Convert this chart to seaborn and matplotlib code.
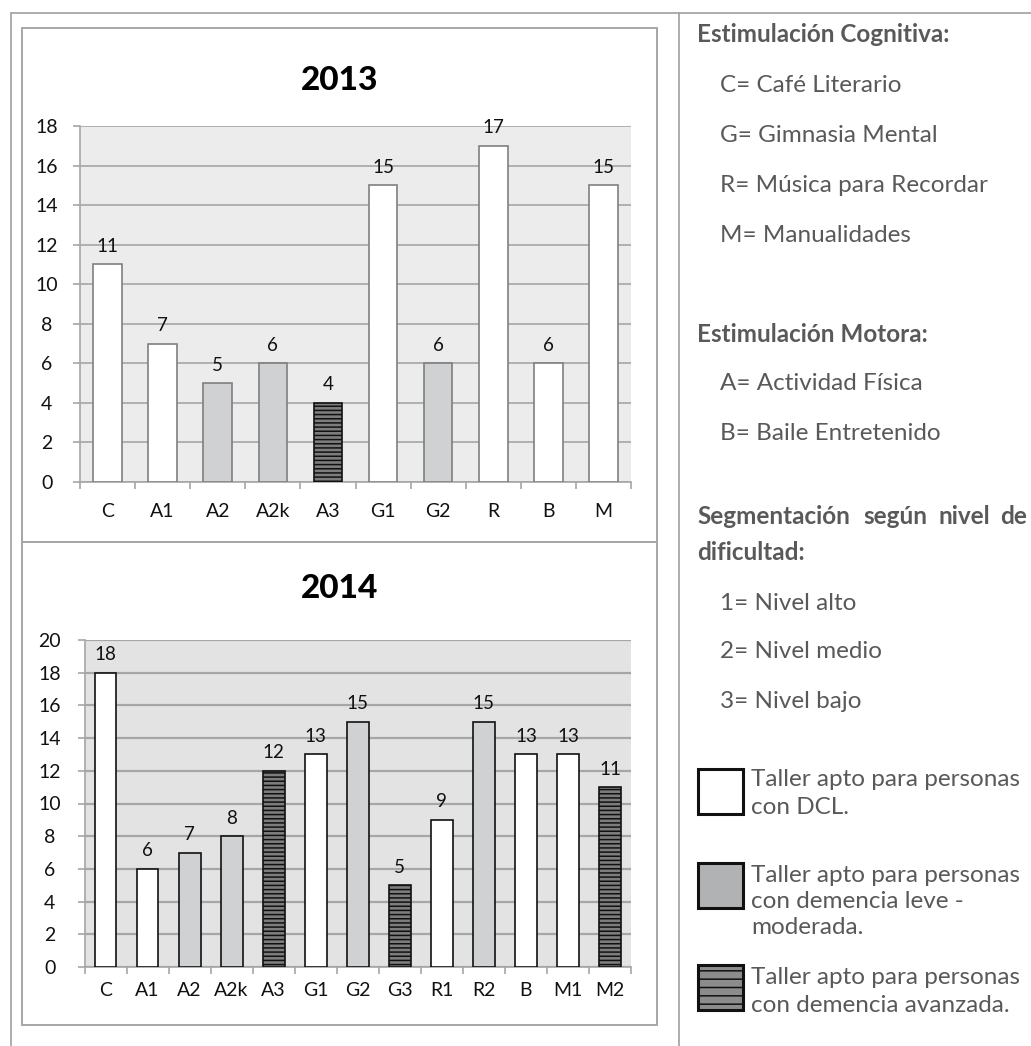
import numpy as np
import pandas as pd
import matplotlib
matplotlib.use("Agg")
import matplotlib.pyplot as plt
import seaborn as sns
from matplotlib.patches import Rectangle
from matplotlib.lines import Line2D

# ---------------- data ----------------
cats_2013 = ["C", "A1", "A2", "A2k", "A3", "G1", "G2", "R", "B", "M"]
vals_2013 = [11, 7, 5, 6, 4, 15, 6, 17, 6, 15]
types_2013 = ["dcl", "dcl", "leve", "leve", "avanz", "dcl", "leve", "dcl", "dcl", "dcl"]

cats_2014 = ["C", "A1", "A2", "A2k", "A3", "G1", "G2", "G3", "R1", "R2", "B", "M1", "M2"]
vals_2014 = [18, 6, 7, 8, 12, 13, 15, 5, 9, 15, 13, 13, 11]
types_2014 = ["dcl", "dcl", "leve", "leve", "avanz", "dcl", "leve", "avanz", "dcl", "leve", "dcl", "dcl", "avanz"]

titles = ["2013", "2014"]

cognitiva_items = ["C= Café Literario", "G= Gimnasia Mental", "R= Música para Recordar", "M= Manualidades"]
motora_items = ["A= Actividad Física", "B= Baile Entretenido"]
nivel_items = ["1= Nivel alto", "2= Nivel medio", "3= Nivel bajo"]
legend_texts = [
    ["Taller apto para personas", "con DCL."],
    ["Taller apto para personas", "con demencia leve -", "moderada."],
    ["Taller apto para personas", "con demencia avanzada."],
]

# ---------------- style ----------------
sns.set_theme(style="white")
plt.rcParams["font.family"] = ["Lato", "DejaVu Sans"]
plt.rcParams["hatch.linewidth"] = 1.1

W, H = 1031, 1046
fig = plt.figure(figsize=(W / 100, H / 100), dpi=100, facecolor="white")

fills = {"dcl": "#ffffff", "leve": "#d0d1d3", "avanz": "#7d7d7d"}
GRID = "#a6a6a6"
TXT = "#595959"


def rect(left, top, right, bottom):
    return [left / W, 1 - bottom / H, (right - left) / W, (bottom - top) / H]


# background overlay for frames / texts (pixel coords)
bg = fig.add_axes([0, 0, 1, 1], zorder=0)
bg.set_xlim(0, W)
bg.set_ylim(H, 0)
bg.axis("off")


def draw_chart(ax, cats, vals, types, ymax, face, edge, elw, glw, ypad, xpad):
    df = pd.DataFrame({"cat": cats, "val": vals})
    pal = {c: fills[t] for c, t in zip(cats, types)}
    sns.barplot(data=df, x="cat", y="val", hue="cat", palette=pal, legend=False,
                width=0.52, saturation=1, edgecolor=edge, linewidth=elw,
                ax=ax, zorder=3)
    for p, t in zip(ax.patches, types):
        if t == "avanz":
            p.set_hatch("----")
            p.set_edgecolor("#111111")
    for i, v in enumerate(vals):
        ax.annotate(str(v), xy=(i, v), xytext=(0, 9), textcoords="offset points",
                    ha="center", va="baseline", fontsize=13.5, color="#111111")
    n = len(cats)
    ax.set_xlim(-0.5, n - 0.5)
    ax.set_ylim(0, ymax)
    yt = list(range(0, ymax + 1, 2))
    ax.set_yticks(yt)
    ax.set_yticklabels([str(t) for t in yt], ha="center")
    ax.set_xticks(range(n))
    ax.set_xticklabels(cats)
    ax.set_xticks(np.arange(-0.5, n), minor=True)
    ax.set_facecolor(face)
    ax.set_axisbelow(True)
    ax.grid(axis="y", color=GRID, linewidth=glw, zorder=0)
    ax.grid(axis="x", visible=False)
    for s in ["top", "right"]:
        ax.spines[s].set_visible(False)
    for s in ["left", "bottom"]:
        ax.spines[s].set_color(GRID)
        ax.spines[s].set_linewidth(1.2)
    ax.tick_params(axis="y", which="major", left=True, length=5, width=1.2,
                   color=GRID, direction="out", pad=ypad, labelsize=14,
                   labelcolor="#111111")
    ax.tick_params(axis="x", which="major", bottom=True, length=0, pad=xpad,
                   labelsize=14, labelcolor="#111111")
    ax.tick_params(axis="x", which="minor", bottom=True, length=5, width=1.2,
                   color=GRID, direction="out")
    ax.set_xlabel("")
    ax.set_ylabel("")


ax13 = fig.add_axes(rect(80, 126, 631, 482), zorder=2)
draw_chart(ax13, cats_2013, vals_2013, types_2013, 18, "#ececec", "#7f7f7f", 1.2, 1.2, 19, 15)

ax14 = fig.add_axes(rect(84.5, 640, 631, 967), zorder=2)
draw_chart(ax14, cats_2014, vals_2014, types_2014, 20, "#e3e3e3", "#111111", 1.2, 1.6, 20, 11)

# ---------------- frames ----------------
lc = "#a0a0a0"
bg.add_line(Line2D([11, W], [12.5, 12.5], color=lc, lw=1.2))
bg.add_line(Line2D([11, 11], [12.5, H], color=lc, lw=1.2))
bg.add_line(Line2D([679, 679], [12.5, H], color=lc, lw=1.2))
bg.add_patch(Rectangle((22, 28), 635, 514, fill=False, edgecolor=GRID, lw=1.4))
bg.add_patch(Rectangle((22, 542), 635, 483, fill=False, edgecolor=GRID, lw=1.4))

bg.text(340, 80, titles[0], ha="center", va="center", fontsize=24, weight="black", color="black")
bg.text(340, 588, titles[1], ha="center", va="center", fontsize=24, weight="black", color="black")

# ---------------- right panel ----------------
FS = 17.5
bg.text(697, 35, "Estimulación Cognitiva:", ha="left", va="center", fontsize=FS, weight="bold", color=TXT)
for y, s in zip([85, 135, 185, 235], cognitiva_items):
    bg.text(720, y, s, ha="left", va="center", fontsize=FS, color=TXT)

bg.text(697, 335, "Estimulación Motora:", ha="left", va="center", fontsize=FS, weight="bold", color=TXT)
for y, s in zip([383, 433], motora_items):
    bg.text(720, y, s, ha="left", va="center", fontsize=FS, color=TXT)

for x, w in zip([697, 863, 939, 1000], ["Segmentación", "según", "nivel", "de"]):
    bg.text(x, 517, w, ha="left", va="center", fontsize=FS, weight="bold", color=TXT)
bg.text(697, 553, "dificultad:", ha="left", va="center", fontsize=FS, weight="bold", color=TXT)
for y, s in zip([603, 652, 702], nivel_items):
    bg.text(720, y, s, ha="left", va="center", fontsize=FS, color=TXT)

box_tops = [769, 863, 965]
box_fills = ["#ffffff", "#b1b2b4", "#8c8c8c"]
box_hatch = [None, None, "--"]
line_ys = [[780, 808], [875, 902, 928], [977, 1005]]
for top, fc, hh, ys, lines in zip(box_tops, box_fills, box_hatch, line_ys, legend_texts):
    r = Rectangle((697.5, top), 45, 45, facecolor=fc, edgecolor="#111111", lw=2.2, hatch=hh)
    bg.add_patch(r)
    for y, s in zip(ys, lines):
        bg.text(751, y, s, ha="left", va="center", fontsize=FS, color=TXT)

fig.savefig("out.png", dpi=100, facecolor="white")
